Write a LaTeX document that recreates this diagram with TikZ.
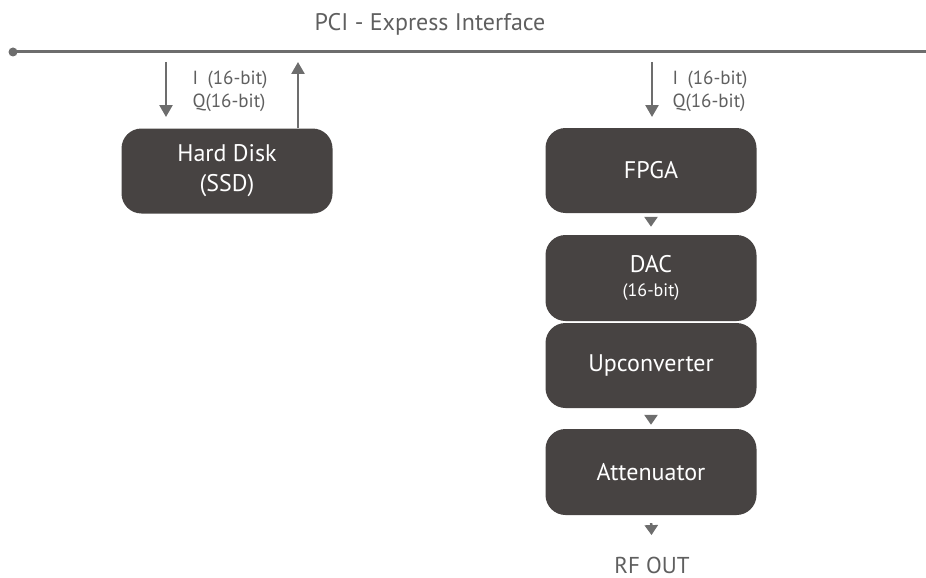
\documentclass[tikz,border=0pt]{standalone}
\usepackage{fontspec}
\setmainfont{PT Sans}
\usetikzlibrary{arrows.meta, calc}
\definecolor{boxA} {RGB}{71, 67, 66}
\definecolor{lineA}{RGB}{109, 109, 109}
\definecolor{textA}{RGB}{95, 95, 95}

\tikzset{
  block/.style={rectangle, rounded corners=20pt, fill=boxA, text=white,
    minimum width=211pt, align=center, font=\fontsize{24}{30}\selectfont},
  flow/.style={draw=lineA, line width=2.5pt, -{Triangle[width=13pt, length=12pt]}},
  tip/.style={draw=lineA, line width=2.5pt, -{Triangle[width=13pt, length=10pt]}},
  iq/.style={anchor=west, align=left, text=textA, font=\fontsize{19}{23}\selectfont}
}

\begin{document}
\begin{tikzpicture}[x=1pt, y=-1pt]
  \useasboundingbox (0,0) rectangle (926,578);

  % bus
  \coordinate (busl) at (13,52);
  \coordinate (busr) at (926,52);
  \draw[lineA, line width=3pt] (busl) -- (busr);
  \fill[lineA] (busl) circle (4.5pt);
  \node[text=textA, font=\fontsize{24}{28}\selectfont] (pci) at (430,24) {PCI - Express Interface};

  % blocks
  \node[block, minimum height=85pt] (disk) at (227,171) {Hard Disk\\(SSD)};
  \node[block, minimum height=85pt] (fpga) at (651,170.5) {FPGA};
  \node[block, minimum height=86pt] (dac)  at (651,278) {DAC\\[-6pt]{\fontsize{18}{22}\selectfont (16-bit)}};
  \node[block, minimum height=85pt] (upc)  at (651,365.5) {Upconverter};
  \node[block, minimum height=86pt] (att)  at (651,472) {Attenuator};
  \node[text=textA, font=\fontsize{23}{27}\selectfont, anchor=base] (rf) at (652,573) {RF OUT};

  % arrows to and from the bus
  \coordinate (d1) at (166,62);
  \coordinate (d2) at (166,117);
  \coordinate (u1) at (298,128);
  \coordinate (u2) at (298,62);
  \coordinate (f1) at (652,62);
  \coordinate (f2) at (652,117);
  \draw[flow] (d1) -- (d2);
  \draw[flow] (u1) -- (u2);
  \draw[flow] (f1) -- (f2);

  \node[iq] (iql) at (189,91) {I\hspace{0.5em}(16-bit)\\Q(16-bit)};
  \node[iq] (iqr) at (669,91) {I\hspace{0.5em}(16-bit)\\Q(16-bit)};

  % small tips between the blocks
  \draw[tip, shorten <=5pt, shorten >=8pt] (fpga.south) -- (dac.north);
  \draw[tip, shorten <=7pt, shorten >=4pt] (upc.south) -- (att.north);
  \draw[tip, shorten <=8pt, shorten >=18pt] (att.south) -- (rf.north);
\end{tikzpicture}
\end{document}
